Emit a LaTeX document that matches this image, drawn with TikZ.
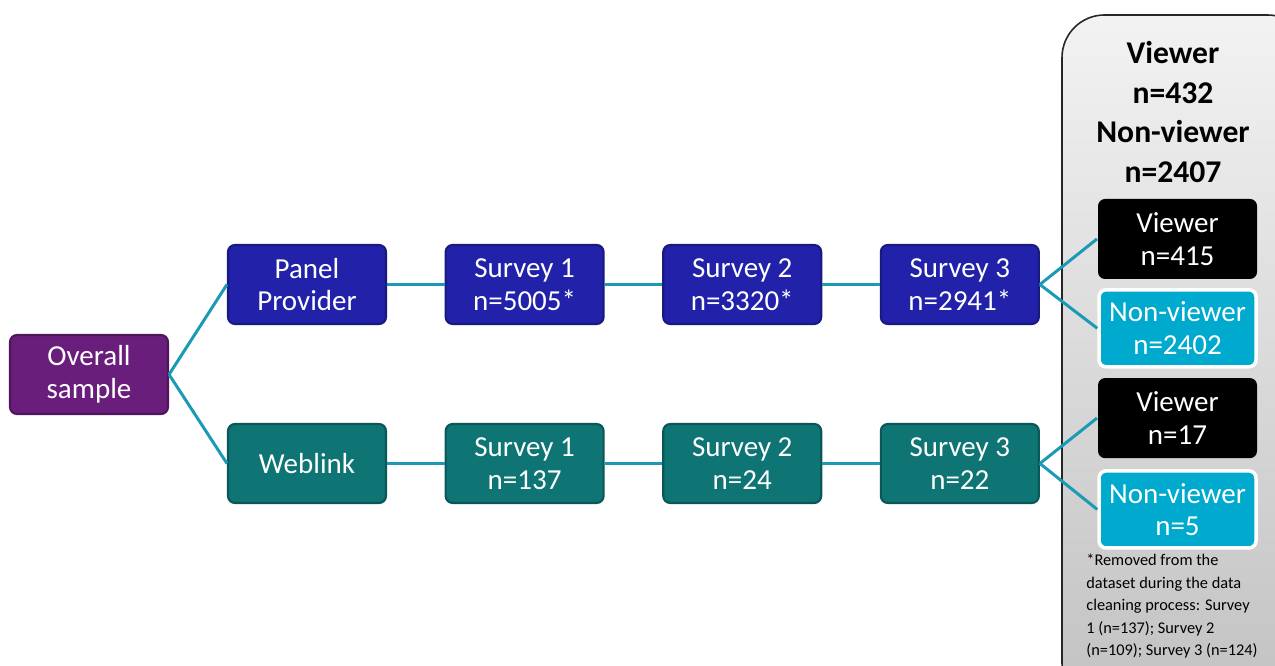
\documentclass[tikz,border=0pt]{standalone}
\usepackage{fontspec}
\setmainfont{Carlito}
\usetikzlibrary{positioning}
\definecolor{link}{HTML}{1A9AB5}
\definecolor{cAll}{HTML}{6A1E7B}
\definecolor{cPanel}{HTML}{2121A9}
\definecolor{cWeb}{HTML}{0E7474}
\definecolor{cNon}{HTML}{00A9CE}
\tikzset{
  % flow boxes (all the same size)
  B/.style={draw=#1!75!black, fill=#1, line width=1.2pt, rounded corners=4pt,
    minimum width=3.16cm, minimum height=1.58cm, inner sep=2pt,
    align=center, text=white, font=\fontsize{16.5}{18.5}\selectfont},
  % outcome boxes in the side panel
  viewer/.style={B=black, draw=none, minimum width=3.18cm, minimum height=1.6cm},
  nonviewer/.style={B=cNon, draw=white, line width=2pt, minimum width=3.14cm,
    minimum height=1.54cm},
  L/.style={draw=link, line width=1.7pt},
}

\begin{document}
\begin{tikzpicture}[node distance=1.15cm]
\useasboundingbox (0,0) rectangle (25.5,13.32);

% ---- side panel (runs off the page on the right and bottom) ----
\begin{scope}
  \clip (0,0) rectangle (25.5,13.32);
  \draw[draw=black!85, line width=0.9pt, rounded corners=0.85cm,
        top color=black!5, bottom color=black!24]
    (21.24,-0.8) rectangle (26.2,13.02);
\end{scope}

\node[align=center, font=\fontsize{18}{22.7}\selectfont\bfseries] (tot) at (23.46,11.08)
  {Viewer\\n=432\\Non-viewer\\n=2407};

% ---- left: sample split ----
\node[B=cAll] (all) at (1.78,5.83) {Overall\\sample};

\node[B=cPanel] (pp) at (6.14,7.63) {Panel\\Provider};
\node[B=cPanel, right=of pp] (pp1) {Survey 1\\n=5005*};
\node[B=cPanel, right=of pp1] (pp2) {Survey 2\\n=3320*};
\node[B=cPanel, right=of pp2] (pp3) {Survey 3\\n=2941*};

\node[B=cWeb] (wl) at (6.14,4.05) {Weblink};
\node[B=cWeb, right=of wl] (wl1) {Survey 1\\n=137};
\node[B=cWeb, right=of wl1] (wl2) {Survey 2\\n=24};
\node[B=cWeb, right=of wl2] (wl3) {Survey 3\\n=22};

% ---- right: viewer / non-viewer ----
\node[viewer] (ppV) at (23.55,8.54) {Viewer\\n=415};
\node[nonviewer, below=0.16cm of ppV] (ppN) {Non-viewer\\n=2402};
\node[viewer, below=0.17cm of ppN] (wlV) {Viewer\\n=17};
\node[nonviewer, below=0.2cm of wlV] (wlN) {Non-viewer\\n=5};

\node[anchor=north west, align=left, inner sep=0pt,
      font=\fontsize{9.3}{12.8}\selectfont] (note) at (21.72,2.24)
  {*Removed from the\\dataset during the data\\cleaning process: Survey\\1 (n=137); Survey 2\\(n=109); Survey 3 (n=124)};

% ---- connectors ----
\draw[L] (all.east) -- (pp.west);
\draw[L] (all.east) -- (wl.west);
\draw[L] (pp) -- (pp1);
\draw[L] (pp1) -- (pp2);
\draw[L] (pp2) -- (pp3);
\draw[L] (wl) -- (wl1);
\draw[L] (wl1) -- (wl2);
\draw[L] (wl2) -- (wl3);
\draw[L] (pp3.east) -- (ppV.west);
\draw[L] (pp3.east) -- (ppN.west);
\draw[L] (wl3.east) -- (wlV.west);
\draw[L] (wl3.east) -- (wlN.west);

\end{tikzpicture}
\end{document}
